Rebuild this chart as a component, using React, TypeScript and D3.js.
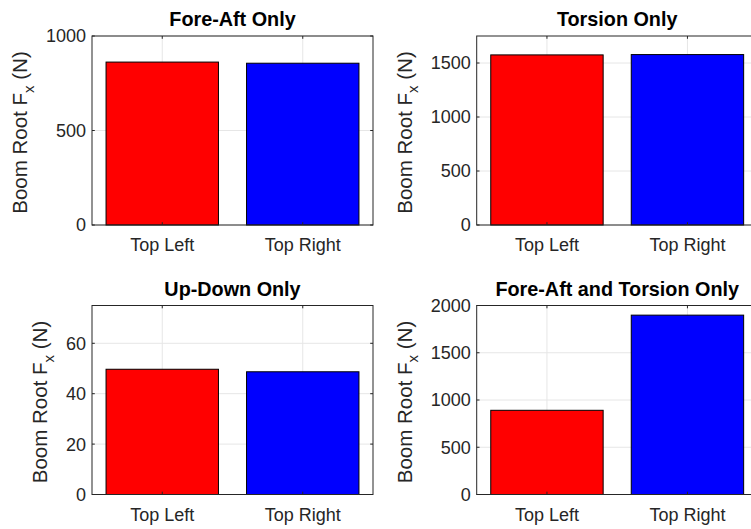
import React from "react";
import * as d3 from "d3";

const categories = ["Top Left", "Top Right"];
const titles = ["Fore-Aft Only", "Torsion Only", "Up-Down Only", "Fore-Aft and Torsion Only"];
const foreAftValues = [862, 856];
const torsionValues = [1575, 1578];
const upDownValues = [49.7, 48.7];
const combinedValues = [891, 1898];
const foreAftTicks = [0, 500, 1000];
const torsionTicks = [0, 500, 1000, 1500];
const upDownTicks = [0, 20, 40, 60];
const combinedTicks = [0, 500, 1000, 1500, 2000];
const yMaxes = [1000, 1750, 75, 2000];
const barColors = ["#ff0000", "#0000ff"];

const W = 751;
const H = 529;
const FONT = "'Liberation Sans', Arial, Helvetica, sans-serif";
const AXIS_COLOR = "#262626";
const GRID_COLOR = "#e6e6e6";

const panelData = [foreAftValues, torsionValues, upDownValues, combinedValues];
const panelTicks = [foreAftTicks, torsionTicks, upDownTicks, combinedTicks];

const colX = [
  [92, 373],
  [476.7, 757.7],
];
const rowY = [
  [36, 225],
  [305.5, 494.5],
];

function Panel({ idx }: { idx: number }) {
  const col = idx % 2;
  const row = Math.floor(idx / 2);
  const [x0, x1] = colX[col];
  const [y0, y1] = rowY[row];
  const values = panelData[idx];
  const ticks = panelTicks[idx];
  const x = d3.scaleLinear().domain([0.5, 2.5]).range([x0, x1]);
  const y = d3.scaleLinear().domain([0, yMaxes[idx]]).range([y1, y0]);
  const bw = 0.8;
  const tickLen = 2.8;
  const maxChars = d3.max(ticks, (t) => String(t).length) as number;
  const labelW = maxChars * 10;
  const ylabelX = x0 - 6 - labelW - 19;
  const cy = (y0 + y1) / 2 + 2;
  const cx = (x0 + x1) / 2;

  return (
    <g>
      {ticks.map((t) => (
        <line key={"gy" + t} x1={x0} x2={x1} y1={y(t)} y2={y(t)} stroke={GRID_COLOR} strokeWidth={1} />
      ))}
      {categories.map((c, i) => (
        <line key={"gx" + c} x1={x(i + 1)} x2={x(i + 1)} y1={y0} y2={y1} stroke={GRID_COLOR} strokeWidth={1} />
      ))}
      {values.map((v, i) => (
        <rect
          key={"b" + i}
          x={x(i + 1 - bw / 2)}
          width={x(i + 1 + bw / 2) - x(i + 1 - bw / 2)}
          y={y(v)}
          height={y(0) - y(v)}
          fill={barColors[i]}
          stroke="#000"
          strokeWidth={1}
        />
      ))}
      <rect x={x0} y={y0} width={x1 - x0} height={y1 - y0} fill="none" stroke={AXIS_COLOR} strokeWidth={1} />
      {ticks.map((t) => (
        <g key={"yt" + t}>
          <line x1={x0} x2={x0 + tickLen} y1={y(t)} y2={y(t)} stroke={AXIS_COLOR} />
          <line x1={x1} x2={x1 - tickLen} y1={y(t)} y2={y(t)} stroke={AXIS_COLOR} />
          <text
            x={x0 - 6}
            y={y(t)}
            dy="0.36em"
            textAnchor="end"
            fontFamily={FONT}
            fontSize={18}
            fill={AXIS_COLOR}
          >
            {t}
          </text>
        </g>
      ))}
      {categories.map((c, i) => (
        <g key={"xt" + c}>
          <line x1={x(i + 1)} x2={x(i + 1)} y1={y1} y2={y1 - tickLen} stroke={AXIS_COLOR} />
          <line x1={x(i + 1)} x2={x(i + 1)} y1={y0} y2={y0 + tickLen} stroke={AXIS_COLOR} />
          <text x={x(i + 1)} y={y1 + 26} textAnchor="middle" fontFamily={FONT} fontSize={18} fill={AXIS_COLOR}>
            {c}
          </text>
        </g>
      ))}
      <text x={cx} y={y0 - 10} textAnchor="middle" fontFamily={FONT} fontSize={19.8} fontWeight="bold" fill="#000">
        {titles[idx]}
      </text>
      <text
        transform={`translate(${ylabelX},${cy}) rotate(-90)`}
        textAnchor="middle"
        fontFamily={FONT}
        fontSize={20.5}
        fill={AXIS_COLOR}
      >
        Boom Root F
        <tspan dy="0.45em" fontSize={15}>x</tspan>
        <tspan dy="-0.32em"> (N)</tspan>
      </text>
    </g>
  );
}

export default function App() {
  return (
    <svg
      width={W}
      height={H}
      viewBox={`0 0 ${W} ${H}`}
      style={{ position: "absolute", left: 0, top: 0, background: "#fff" }}
    >
      <rect x={0} y={0} width={W} height={H} fill="#fff" />
      {[0, 1, 2, 3].map((i) => (
        <Panel key={i} idx={i} />
      ))}
    </svg>
  );
}
